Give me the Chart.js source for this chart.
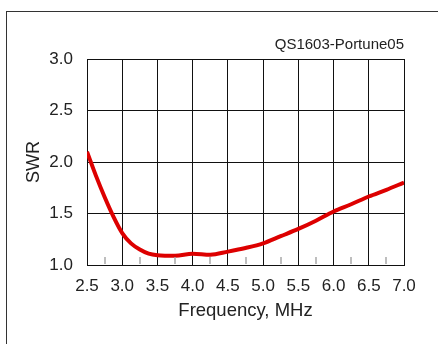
<!DOCTYPE html>
<html>
<head>
<meta charset="utf-8">
<script src="https://cdn.jsdelivr.net/npm/chart.js@4/dist/chart.umd.min.js"></script>
<style>
  html, body { margin: 0; padding: 0; background: #fff; overflow: hidden; }
  #wrap { position: relative; width: 438px; height: 344px; }
  #frame {
    position: absolute; left: 6px; top: 11px;
    width: 480px; height: 400px;
    border: 1px solid #333; box-sizing: border-box;
  }
  canvas { position: absolute; left: 0; top: 0; }
</style>
</head>
<body>
<div id="wrap">
  <div id="frame"></div>
  <canvas id="swrChart" width="438" height="344"></canvas>
</div>
<script>
'use strict';

// ── Data ─────────────────────────────────────────────────
const FREQ_MHZ = [2.5, 2.625, 2.75, 2.875, 3.0, 3.125, 3.25, 3.375, 3.5, 3.75, 4.0, 4.25,
                  4.5, 4.75, 5.0, 5.25, 5.5, 5.75, 6.0, 6.25, 6.5, 6.75, 7.0];
const SWR      = [2.10, 1.87, 1.66, 1.47, 1.31, 1.21, 1.15, 1.11, 1.095, 1.09, 1.11, 1.10,
                  1.13, 1.165, 1.21, 1.28, 1.35, 1.43, 1.52, 1.59, 1.665, 1.73, 1.80];
const MINOR_TICKS = [2.75, 3.25, 3.75, 4.25, 4.75, 5.25, 5.75, 6.25, 6.75];
const TITLE   = 'QS1603-Portune05';
const X_LABEL = 'Frequency, MHz';
const Y_LABEL = 'SWR';

const FONT = "'Liberation Sans', Arial, sans-serif";
const INK  = '#222';
const RED  = '#dd0000';

// ── Minor ticks along the bottom axis ────────────────────
const minorTicks = {
  id: 'minorTicks',
  afterDraw(chart) {
    const { ctx, chartArea, scales } = chart;
    ctx.save();
    ctx.strokeStyle = '#a8a8a8';
    ctx.lineWidth = 1.5;
    MINOR_TICKS.forEach(v => {
      const x = Math.round(scales.x.getPixelForValue(v));
      ctx.beginPath();
      ctx.moveTo(x, chartArea.bottom - 1);
      ctx.lineTo(x, chartArea.bottom - 8);
      ctx.stroke();
    });
    ctx.restore();
  },
};

const ctx = document.getElementById('swrChart').getContext('2d');
new Chart(ctx, {
  type: 'line',
  data: {
    datasets: [{
      data: FREQ_MHZ.map((f, i) => ({ x: f, y: SWR[i] })),
      borderColor: RED,
      borderWidth: 4,
      pointRadius: 0,
      cubicInterpolationMode: 'monotone',
      fill: false,
    }],
  },
  options: {
    responsive: false,
    animation: false,
    events: [],
    layout: { padding: { left: 19, right: 34, top: 36, bottom: 18 } },
    plugins: {
      legend: { display: false },
      tooltip: { enabled: false },
      title: {
        display: true,
        text: TITLE,
        align: 'end',
        color: INK,
        font: { family: FONT, size: 15, weight: 'normal', lineHeight: 1.2 },
        padding: { top: 0, bottom: 5 },
      },
    },
    scales: {
      x: {
        type: 'linear',
        min: 2.5, max: 7.0,
        afterFit: s => { s.height = 61; },
        ticks: {
          stepSize: 0.5,
          padding: 11,
          color: INK,
          maxRotation: 0,
          font: { family: FONT, size: 17 },
          callback: v => v.toFixed(1),
        },
        grid: { color: '#111', lineWidth: 1, drawTicks: false, tickLength: 0 },
        border: { color: '#111', width: 1 },
        title: {
          display: true, text: X_LABEL, color: INK,
          font: { family: FONT, size: 18.5, lineHeight: 1.2 },
          padding: { top: 4, bottom: 4 },
        },
      },
      y: {
        type: 'linear',
        min: 1.0, max: 3.0,
        afterFit: s => { s.width = 68; },
        ticks: {
          stepSize: 0.5,
          padding: 14,
          color: INK,
          font: { family: FONT, size: 17 },
          callback: v => v.toFixed(1),
        },
        grid: { color: '#111', lineWidth: 1, drawTicks: false, tickLength: 0 },
        border: { color: '#111', width: 1 },
        title: {
          display: true, text: Y_LABEL, color: INK,
          font: { family: FONT, size: 18, lineHeight: 1.2 },
          padding: { top: 4, bottom: 4 },
        },
      },
    },
  },
  plugins: [minorTicks],
});
</script>
</body>
</html>
